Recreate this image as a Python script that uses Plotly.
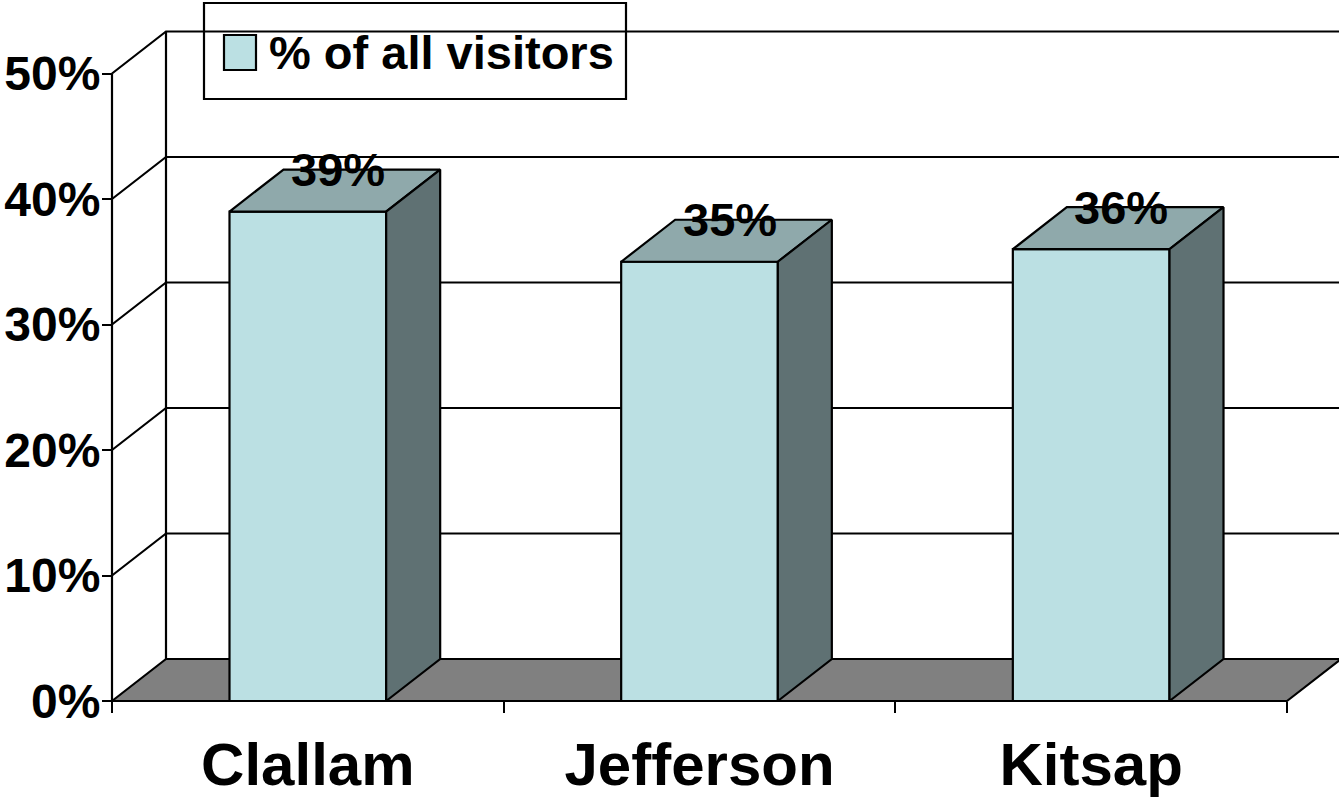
import plotly.graph_objects as go

# ---------------- data ----------------
categories = ["Clallam", "Jefferson", "Kitsap"]
values = [39, 35, 36]
value_labels = ["39%", "35%", "36%"]
y_ticks = [0, 10, 20, 30, 40, 50]
y_tick_labels = ["0%", "10%", "20%", "30%", "40%", "50%"]
series_name = "% of all visitors"

# ---------------- geometry / style ----------------
W, H = 1339, 801
SX = 391.67          # px per category unit
SY = 12.55           # px per percent
PL, PR, PT, PB = 110, 1339, 29, 703   # plot area in px
AX0_PX, AY0_PX = 112, 701             # front axis origin in px
x_range = [-0.5 - (AX0_PX - PL) / SX, -0.5 + (PR - AX0_PX) / SX]
y_range = [-(PB - AY0_PX) / SY, (AY0_PX - PT) / SY]
DX = 54 / SX
DY = 42 / SY
BAR_W = 0.4
XL, XR = -0.5, len(categories) - 0.5
YTOP = y_ticks[-1]

FRONT = "#BBE0E3"
TOP = "#8FA9AB"
SIDE = "#5F7173"
FLOOR = "#808080"
LW = 2.2
FONT = "Liberation Sans, Arial, sans-serif"


def poly(xs, ys, fill):
    return go.Scatter(x=xs + [xs[0]], y=ys + [ys[0]], mode="lines", fill="toself",
                      fillcolor=fill, line=dict(color="black", width=LW),
                      hoverinfo="skip", showlegend=False)


fig = go.Figure()

# back-wall gridlines + left-wall diagonals
gx, gy = [], []
for v in y_ticks[1:]:
    gx += [XL, XL + DX, x_range[1] + 0.2, None]
    gy += [v, v + DY, v + DY, None]
# back wall left edge
gx += [XL + DX, XL + DX, None]
gy += [DY, YTOP + DY, None]
# front vertical axis line
gx += [XL, XL]
gy += [0, YTOP]
fig.add_trace(go.Scatter(x=gx, y=gy, mode="lines", line=dict(color="black", width=LW),
                         hoverinfo="skip", showlegend=False))

# floor
fig.add_trace(poly([XL, XR, XR + DX, XL + DX], [0, 0, DY, DY], FLOOR))

# bars
for i, v in enumerate(values):
    l, r = i - BAR_W / 2, i + BAR_W / 2
    fig.add_trace(poly([l, r, r, l], [0, 0, v, v], FRONT))
    fig.add_trace(poly([l, r, r + DX, l + DX], [v, v, v + DY, v + DY], TOP))
    fig.add_trace(poly([r, r + DX, r + DX, r], [0, DY, v + DY, v], SIDE))
    fig.add_annotation(x=i + DX / 2 + 3 / SX, y=v + DY, text=value_labels[i], showarrow=False,
                       xanchor="center", yanchor="middle",
                       font=dict(family=FONT, size=47, color="black", weight="bold"))


def px_x(p):
    return (p - PL) / (PR - PL)


def px_y(p):
    return (PB - p) / (PB - PT)


# legend (drawn manually)
fig.add_shape(type="rect", xref="paper", yref="paper",
              x0=px_x(204), x1=px_x(626), y0=px_y(99), y1=px_y(3),
              line=dict(color="black", width=LW), fillcolor="rgba(0,0,0,0)")
fig.add_shape(type="rect", xref="paper", yref="paper",
              x0=px_x(224), x1=px_x(256), y0=px_y(70), y1=px_y(35),
              line=dict(color="black", width=LW), fillcolor=FRONT)
fig.add_annotation(xref="paper", yref="paper", x=px_x(267), y=px_y(52),
                   text=series_name, showarrow=False, xanchor="left", yanchor="middle",
                   font=dict(family=FONT, size=47, color="black", weight="bold"))

fig.update_layout(
    width=W, height=H,
    margin=dict(l=PL, r=W - PR, t=PT, b=H - PB, pad=0),
    paper_bgcolor="white", plot_bgcolor="white",
    showlegend=False,
    xaxis=dict(range=x_range, tickmode="array", tickvals=list(range(len(categories))),
               ticktext=categories, ticks="", showline=False, showgrid=False,
               zeroline=False, anchor="free", position=px_y(AY0_PX),
               tickfont=dict(family=FONT, size=60, color="black", weight="bold"),
               ticklabelstandoff=23,
               minor=dict(ticks="outside", ticklen=11, tickwidth=LW, tickcolor="black",
                          tickmode="linear", tick0=-0.5, dtick=1, showgrid=False)),
    yaxis=dict(range=y_range, tickmode="array", tickvals=y_ticks, ticktext=y_tick_labels,
               ticks="outside", ticklen=10, tickwidth=LW, tickcolor="black",
               showline=False, showgrid=False, zeroline=False,
               anchor="free", position=px_x(AX0_PX), ticklabelstandoff=-8,
               tickfont=dict(family=FONT, size=48, color="black", weight="bold")),
)

fig.write_html("out.html", config={"displayModeBar": False},
               post_script="document.body.style.margin='0';document.body.style.overflow='hidden';")
